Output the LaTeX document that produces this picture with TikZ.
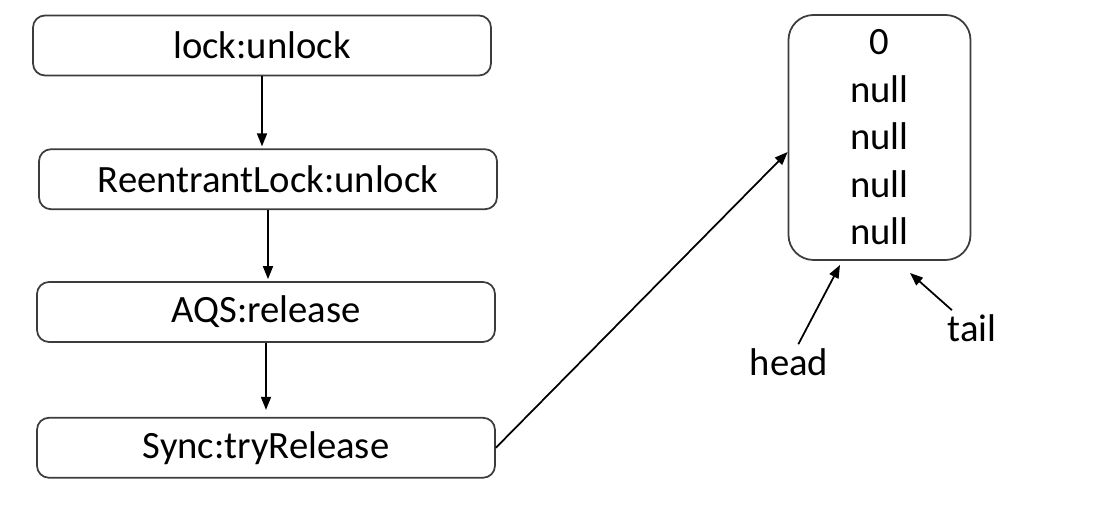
\documentclass[tikz,border=0pt]{standalone}
\usepackage{fontspec}
\setmainfont{Carlito}
\usetikzlibrary{arrows.meta, positioning}
\definecolor{edgegray}{RGB}{60,60,60}

\begin{document}
\begin{tikzpicture}[
        node distance=0.72cm,
        box/.style={rectangle, draw=edgegray, line width=0.5pt, rounded corners=0.12cm, minimum width=4.58cm, minimum height=0.6cm, align=center, font=\fontsize{11}{13.5}\selectfont},
        arrow/.style={-{Triangle[length=1.3mm, width=1mm]}, line width=0.5pt, black},
        label/.style={inner sep=1pt, font=\fontsize{11}{13.5}\selectfont}
    ]
        \useasboundingbox (0,0) rectangle (11.1,5.12);
        \node[box] (lock) at (2.62,4.665) {lock:unlock};
        \node[box, below=0.72cm of lock, xshift=0.06cm] (reentrant) {ReentrantLock:unlock};
        \node[box, below=0.71cm of reentrant, xshift=-0.02cm] (aqs) {AQS:release};
        \node[box, below=0.74cm of aqs] (sync) {Sync:tryRelease};
        \node[box, minimum width=1.82cm, minimum height=2.45cm, rounded corners=0.25cm] (state) at (8.795,3.745) {0\\null\\null\\null\\null};
        \node[label] (head) at (7.89,1.50) {head};
        \node[label] (tail) at (9.72,1.84) {tail};
        \coordinate (headptr) at (8.40,2.47);
        \coordinate (tailptr) at (9.10,2.39);

        \draw[arrow, shorten >=0.02cm] (lock.south) -- (lock.south |- reentrant.north);
        \draw[arrow, shorten >=0.02cm] (reentrant.south) -- (reentrant.south |- aqs.north);
        \draw[arrow, shorten >=0.07cm] (aqs.south) -- (aqs.south |- sync.north);
        \draw[arrow] (sync.east) -- (state.189);
        \draw[arrow] (head) -- (headptr);
        \draw[arrow] (tail) -- (tailptr);
    \end{tikzpicture}
\end{document}
